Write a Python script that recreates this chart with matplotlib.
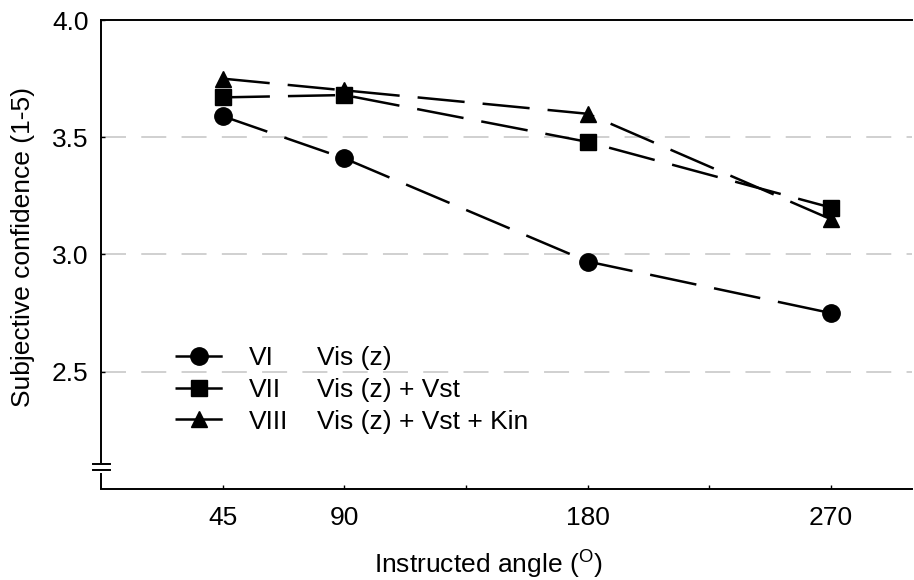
import matplotlib
matplotlib.use('Agg')
from matplotlib import pyplot as plt

# data
angles = [45, 90, 180, 270]
conf_vi = [3.59, 3.41, 2.97, 2.75]
conf_vii = [3.67, 3.68, 3.48, 3.20]
conf_viii = [3.75, 3.70, 3.60, 3.15]
numerals = ['VI', 'VII', 'VIII']
descriptions = ['Vis (z)', 'Vis (z) + Vst', 'Vis (z) + Vst + Kin']
xtick_pos = [45, 90, 135, 180, 225, 270]
xtick_lab = ['45', '90', '', '180', '', '270']
ytick_pos = [2.5, 3.0, 3.5, 4.0]
grid_levels = [2.5, 3.0, 3.5]

plt.rcParams['font.family'] = ['Liberation Sans', 'DejaVu Sans']
plt.rcParams['mathtext.fontset'] = 'custom'
plt.rcParams['mathtext.rm'] = 'Liberation Sans'
plt.rcParams['lines.scale_dashes'] = False

FS = 19

fig = plt.figure(figsize=(9.14, 5.8), dpi=100)
ax = fig.add_axes([0.1105, 0.157, 0.8875, 0.8085])

#light dashed reference lines
for g in grid_levels:
    ax.axhline(g, color='#c8c8c8', lw=1.2, dashes=(18, 11), zorder=0)

style = dict(color='black', lw=1.8, dashes=(34, 13), clip_on=False)
l1, = ax.plot(angles, conf_vi, marker='o', ms=12.5, **style)
l2, = ax.plot(angles, conf_vii, marker='s', ms=11.5, **style)
l3, = ax.plot(angles, conf_viii, marker='^', ms=12, **style)

ax.set_xlim(0, 300)
ax.set_ylim(2.0, 4.0)
ax.set_xticks(xtick_pos)
ax.set_xticklabels(xtick_lab)
ax.set_yticks(ytick_pos)
ax.set_yticklabels(['%.1f' % v for v in ytick_pos])
ax.tick_params(direction='in', length=3, width=1, labelsize=FS, color='black')
ax.tick_params(axis='x', pad=12)
ax.tick_params(axis='y', pad=9)

for s in ['top', 'left', 'bottom']:
    ax.spines[s].set_linewidth(1.4)
ax.spines['right'].set_visible(False)

#axis break on the left spine
ax.spines['left'].set_bounds(2.115, 4.0)
ax.plot([0, 0], [2.0, 2.068], color='black', lw=1.4, clip_on=False, solid_capstyle='butt')
for yb in [2.081, 2.106]:
    ax.plot([-0.01, 0.011], [yb, yb], color='black', lw=1.4, clip_on=False,
            transform=ax.get_yaxis_transform())

ax.set_xlabel(r'Instructed angle ($^{\mathregular{O}}$)', fontsize=FS)
ax.set_ylabel('Subjective confidence (1-5)', fontsize=FS)
ax.xaxis.set_label_coords(0.477, -0.125)
ax.yaxis.set_label_coords(-0.081, 0.516)

leg1 = ax.legend([l1, l2, l3], numerals, loc='center left', bbox_to_anchor=(0.091, 0.211),
                 frameon=False, fontsize=FS, handlelength=1.82, handletextpad=1.0,
                 labelspacing=0.29, borderpad=0, borderaxespad=0)
ax.add_artist(leg1)
blank = [plt.Line2D([], [], lw=0) for _ in descriptions]
ax.legend(blank, descriptions, loc='center left', bbox_to_anchor=(0.266, 0.211),
          frameon=False, fontsize=FS, handlelength=0, handletextpad=0,
          labelspacing=0.29, borderpad=0, borderaxespad=0)

fig.savefig('out.png', dpi=100)
